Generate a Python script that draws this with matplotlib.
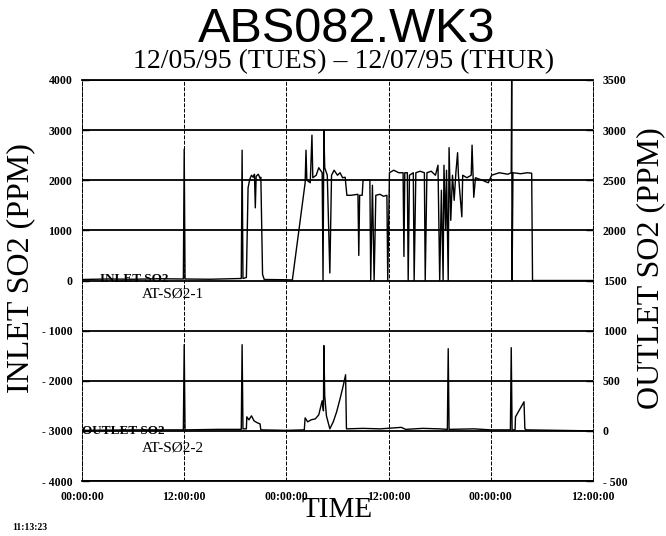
# ABS082.WK3 inlet / outlet SO2 trend, 12/05/95 - 12/07/95

import matplotlib
matplotlib.use('Agg')
import matplotlib.pyplot as plt

# ----------------------------------------------------------------------------------------------------------------------
#  DATA  (time in hours from 12/05/95 00:00:00)
# ----------------------------------------------------------------------------------------------------------------------
inlet_hours = [0.0, 3.0, 6.0, 9.0, 11.9, 12.0, 12.1, 15.0, 18.7, 18.8, 18.9, 19.3, 19.5, 19.7, 19.9, 20.1,
               20.25, 20.35, 20.45, 20.7, 20.9, 21.0, 21.2, 21.4, 24.0, 24.7, 26.2, 26.3, 26.4, 26.8, 27.0,
               27.1, 27.5, 27.8, 28.2, 28.3, 28.4, 28.5, 28.8, 29.1, 29.3, 29.6, 29.8, 30.0, 30.3, 30.6,
               30.9, 31.1, 31.6, 32.4, 32.5, 32.6, 32.9, 33.0, 33.5, 33.8, 33.9, 34.1, 34.3, 34.5, 35.0,
               35.4, 35.8, 35.9, 36.1, 36.6, 37.2, 37.7, 37.8, 37.9, 38.2, 38.3, 38.45, 38.9, 39.0, 39.2,
               39.7, 40.2, 40.3, 40.5, 41.0, 41.5, 41.8, 42.0, 42.2, 42.4, 42.5, 42.7, 42.8, 43.0, 43.1,
               43.3, 43.5, 43.7, 43.9, 44.1, 44.2, 44.6, 44.7, 45.2, 45.7, 45.8, 46.0, 46.2, 47.0, 47.7,
               48.1, 49.0, 50.0, 50.4, 50.45, 50.5, 50.6, 51.5, 52.3, 52.8, 52.9, 60.0]
inlet_ppm   = [20, 30, 25, 35, 30, 2620, 30, 25, 40, 2600, 40, 60, 1850, 2020, 2100, 2060,
               2120, 1450, 2080, 2120, 2040, 2060, 120, 20, 15, 10, 1950, 2600, 2000, 1950, 2900,
               2050, 2100, 2250, 2150, 0, 3000, 2250, 2100, 150, 2100, 2200, 2150, 2100, 2150, 2050,
               2060, 1700, 1700, 1720, 500, 1700, 1700, 2000, 2000, 2000, 0, 1900, 0, 1700, 1720,
               1680, 1700, 0, 2150, 2200, 2150, 2150, 480, 2150, 2150, 0, 2100, 2150, 0, 2150,
               2180, 2150, 0, 2150, 2180, 2100, 2300, 0, 1800, 0, 2300, 1000, 2200, 0, 2650,
               1200, 2100, 1600, 2150, 2550, 2100, 1270, 2100, 2050, 2100, 2700, 1660, 2050, 2000, 1950,
               2100, 2150, 2120, 2150, 4000, 0, 2150, 2130, 2150, 2140, 0, 0]

outlet_hours = [0.0, 6.0, 11.9, 12.0, 12.1, 16.0, 18.7, 18.8, 18.9, 19.3, 19.35, 19.6, 19.9, 20.2, 20.6,
                20.9, 21.0, 24.0, 26.1, 26.2, 26.5, 26.9, 27.4, 27.8, 28.2, 28.35, 28.4, 28.5, 28.7, 29.1,
                29.5, 29.9, 30.3, 30.7, 30.95, 31.05, 33.0, 35.0, 37.5, 38.0, 40.0, 42.0, 42.9, 43.0, 43.1,
                46.0, 48.0, 50.3, 50.4, 50.5, 50.85, 50.9, 51.3, 51.9, 52.0, 52.2, 60.0]
outlet_ppm   = [5, 10, 10, 860, 10, 15, 15, 860, 20, 20, 140, 110, 150, 100, 80,
                70, 10, 5, 10, 130, 90, 110, 120, 160, 300, 200, 850, 350, 150, 20,
                90, 190, 320, 460, 560, 20, 25, 20, 35, 15, 25, 20, 15, 820, 15,
                20, 10, 10, 830, 10, 10, 140, 200, 290, 20, 10, 0]

time_ticks       = [0, 12, 24, 36, 48, 60]
time_tick_labels = ['00:00:00', '12:00:00', '00:00:00', '12:00:00', '00:00:00', '12:00:00']
inlet_ticks      = [-4000, -3000, -2000, -1000, 0, 1000, 2000, 3000, 4000]
outlet_ticks     = [-500, 0, 500, 1000, 1500, 2000, 2500, 3000, 3500]

# ----------------------------------------------------------------------------------------------------------------------
#  PLOT
# ----------------------------------------------------------------------------------------------------------------------
serif = 'Liberation Serif'

def fmt(v):
    return '- ' + str(abs(v)) if v < 0 else str(v)

fig = plt.figure(figsize=(6.66, 5.36), dpi=100)
fig.patch.set_facecolor('white')

ax = fig.add_axes([82/666, 1 - 481/536, 511/666, 401/536])
ax2 = ax.twinx()

# inlet on left axis, outlet on right axis
ax.plot(inlet_hours, inlet_ppm, color='black', linewidth=1.0, zorder=3)
ax2.plot(outlet_hours, outlet_ppm, color='black', linewidth=1.0, zorder=3)

ax.set_xlim(0, 60)
ax.set_ylim(-4000, 4000)
ax2.set_ylim(-500, 3500)

ax.set_xticks(time_ticks)
ax.set_xticklabels(time_tick_labels, fontfamily=serif, fontweight='bold', fontsize=8.5)
ax.set_yticks(inlet_ticks)
ax.set_yticklabels([fmt(v) for v in inlet_ticks], fontfamily=serif, fontweight='bold', fontsize=8.5)
ax2.set_yticks(outlet_ticks)
ax2.set_yticklabels([fmt(v) for v in outlet_ticks], fontfamily=serif, fontweight='bold', fontsize=8.5)

ax.tick_params(axis='x', length=0, pad=7)
ax.tick_params(axis='y', direction='in', length=5, width=1, pad=7)
ax2.tick_params(axis='y', direction='in', length=5, width=1, pad=7)

# grid: solid horizontal, dashed vertical
ax.yaxis.grid(True, color='black', linewidth=1.3, linestyle='-')
ax.xaxis.grid(True, color='black', linewidth=0.7, linestyle=(0, (4, 1.5)))
ax.set_axisbelow(True)

for side in ['top', 'bottom']:
    ax.spines[side].set_linewidth(1.3)
for side in ['left', 'right']:
    ax.spines[side].set_linewidth(0.7)
    ax.spines[side].set_linestyle((0, (4, 1.5)))
for side in ax2.spines:
    ax2.spines[side].set_visible(False)

# series labels
ax.text(2.1, 20, 'INLET SO2', fontfamily=serif, fontweight='bold', fontsize=9.5, va='center', ha='left')
ax.text(7.0, -260, 'AT-SØ2-1', fontfamily=serif, fontsize=11, va='center', ha='left')
ax.text(0.0, -3000, 'OUTLET SO2', fontfamily=serif, fontweight='bold', fontsize=9.5, va='center', ha='left')
ax.text(7.0, -3340, 'AT-SØ2-2', fontfamily=serif, fontsize=11, va='center', ha='left')

# titles and axis labels
fig.text(347/666, 1 - 42/536, 'ABS082.WK3', fontfamily='Liberation Sans', fontsize=35, ha='center', va='baseline')
fig.text(344/666, 1 - 68/536, '12/05/95 (TUES) \u2013 12/07/95 (THUR)', fontfamily=serif, fontsize=20,
         ha='center', va='baseline')
fig.text(21/666, 1 - 268/536, 'INLET SO2 (PPM)', fontfamily=serif, fontsize=23, rotation=90,
         ha='center', va='center')
fig.text(651/666, 1 - 268/536, 'OUTLET SO2 (PPM)', fontfamily=serif, fontsize=23, rotation=90,
         ha='center', va='center')
fig.text(337/666, 1 - 517/536, 'TIME', fontfamily=serif, fontsize=21, ha='center', va='baseline')
fig.text(12/666, 1 - 530/536, '11:13:23', fontfamily=serif, fontweight='bold', fontsize=7, ha='left', va='baseline')

fig.savefig('out.png', dpi=100, facecolor='white')
